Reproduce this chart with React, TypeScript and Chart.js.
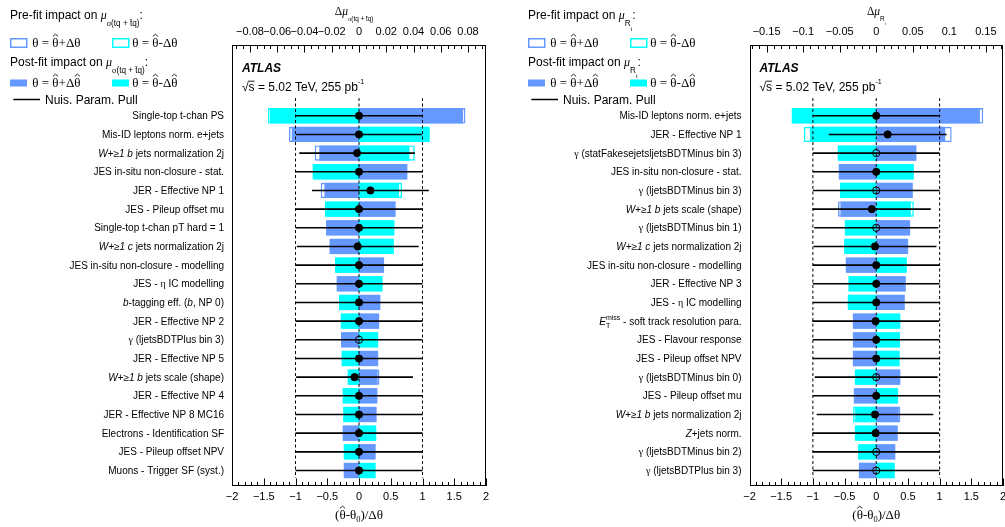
import React, { useEffect, useRef } from 'react';
import { Chart, registerables } from 'chart.js';

Chart.register(...registerables);

const W = 1005;
const H = 527;
const SANS = 'Liberation Sans';
const SERIF = 'Liberation Serif';
const BLUE = 'rgb(102,153,255)';
const CYAN = 'rgb(0,255,255)';

// ---------------- Left panel: impact on mu_{sigma(tq + tbar q)} ----------------
const L_LABELS = [
  'Single-top t-chan PS',
  'Mis-ID leptons norm. e+jets',
  '*W+≥1 b* jets normalization 2j',
  'JES in-situ non-closure - stat.',
  'JER - Effective NP 1',
  'JES - Pileup offset mu',
  'Single-top t-chan pT hard = 1',
  '*W+≥1 c* jets normalization 2j',
  'JES in-situ non-closure - modelling',
  'JES - η IC modelling',
  '*b*-tagging eff. (*b*, NP 0)',
  'JER - Effective NP 2',
  'γ (ljetsBDTPlus bin 3)',
  'JER - Effective NP 5',
  '*W+≥1 b* jets scale (shape)',
  'JER - Effective NP 4',
  'JER - Effective NP 8 MC16',
  'Electrons - Identification SF',
  'JES - Pileup offset NPV',
  'Muons - Trigger SF (syst.)',
];
const L_POST_UP = [0.0764, -0.0494, -0.0291, 0.0355, -0.0254, 0.0269, -0.0242, -0.0213, 0.0184, -0.0164, 0.0157, 0.0148, -0.0132, 0.0141, 0.0137, 0.0135, 0.0129, -0.012, 0.0122, -0.0112];
const L_POST_DN = [-0.0653, 0.0519, 0.037, -0.034, 0.0294, -0.025, 0.026, 0.0252, -0.0176, 0.0173, -0.0147, -0.0134, 0.0141, -0.0128, -0.0083, -0.012, -0.0116, 0.0127, -0.0112, 0.0122];
const L_PRE_UP = [0.0781, -0.0514, -0.0325, 0.035, -0.0281, 0.0265, -0.024, -0.0218, 0.0182, -0.0162, 0.0155, 0.0146, -0.013, 0.0139, 0.015, 0.0133, 0.0127, -0.0118, 0.012, -0.011];
const L_PRE_DN = [-0.0668, 0.051, 0.0409, -0.0335, 0.0316, -0.0246, 0.0258, 0.0256, -0.0174, 0.0171, -0.0145, -0.0132, 0.0139, -0.0126, -0.0081, -0.0118, -0.0114, 0.0125, -0.011, 0.012];
const L_PULL = [0, 0, -0.03, 0, 0.18, 0, 0, -0.02, 0, 0, 0, 0, 0, 0, -0.07, 0, 0, 0, 0, 0];
const L_PULL_ERR = [1.0, 0.99, 0.91, 1.0, 0.92, 1.0, 1.0, 0.96, 1.0, 1.0, 1.0, 1.0, 1.0, 1.0, 0.92, 1.0, 1.0, 1.0, 1.0, 1.0];
const L_IMPACT_TICKS = [-0.08, -0.06, -0.04, -0.02, 0, 0.02, 0.04, 0.06, 0.08];

// ---------------- Right panel: impact on mu_{R_t} ----------------
const R_LABELS = [
  'Mis-ID leptons norm. e+jets',
  'JER - Effective NP 1',
  'γ (statFakesejetsljetsBDTMinus bin 3)',
  'JES in-situ non-closure - stat.',
  'γ (ljetsBDTMinus bin 3)',
  '*W+≥1 b* jets scale (shape)',
  'γ (ljetsBDTMinus bin 1)',
  '*W+≥1 c* jets normalization 2j',
  'JES in-situ non-closure - modelling',
  'JER - Effective NP 3',
  'JES - η IC modelling',
  '*E*_{T}^{miss} - soft track resolution para.',
  'JES - Flavour response',
  'JES - Pileup offset NPV',
  'γ (ljetsBDTMinus bin 0)',
  'JES - Pileup offset mu',
  '*W+≥1 b* jets normalization 2j',
  '*Z*+jets norm.',
  'γ (ljetsBDTMinus bin 2)',
  'γ (ljetsBDTPlus bin 3)',
];
const R_POST_UP = [0.1418, 0.0945, 0.055, -0.0513, 0.05, -0.049, 0.0464, 0.042, -0.0417, 0.0404, 0.039, -0.032, -0.032, -0.032, 0.033, -0.0307, 0.0308, 0.0294, 0.0261, -0.0238];
const R_POST_DN = [-0.1156, -0.0908, -0.0527, 0.0514, -0.0495, 0.0473, -0.043, -0.043, 0.0418, -0.038, -0.039, 0.033, 0.0325, 0.032, -0.0293, 0.0299, -0.0289, -0.0293, -0.0248, 0.0253];
const R_PRE_UP = [0.1464, 0.1032, 0.0545, -0.0508, 0.0495, -0.0523, 0.046, 0.044, -0.0412, 0.04, 0.0386, -0.0316, -0.0316, -0.0316, 0.0326, -0.0303, 0.033, 0.029, 0.0257, -0.0234];
const R_PRE_DN = [-0.114, -0.0991, -0.0522, 0.051, -0.049, 0.0514, -0.0426, -0.044, 0.0414, -0.0376, -0.0386, 0.0326, 0.0321, 0.0316, -0.0289, 0.0295, -0.0317, -0.0289, -0.0244, 0.0249];
const R_PULL = [0, 0.18, 0, 0, 0, -0.07, 0, -0.02, 0, 0, 0, -0.01, 0, 0, 0, 0, -0.02, -0.01, 0, 0];
const R_PULL_ERR = [1.0, 0.93, 1.0, 1.0, 1.0, 0.93, 0.98, 0.97, 1.0, 1.0, 1.0, 1.0, 1.0, 1.0, 0.97, 1.0, 0.92, 1.0, 1.0, 1.0];
const R_IMPACT_TICKS = [-0.15, -0.1, -0.05, 0, 0.05, 0.1, 0.15];

// ---------------- Shared axis ----------------
const PULL_TICKS = [-2, -1.5, -1, -0.5, 0, 0.5, 1, 1.5, 2];
const PULL_REF_LINES = [-1, 0, 1];

const PANELS = [
  {
    labels: L_LABELS, postUp: L_POST_UP, postDn: L_POST_DN, preUp: L_PRE_UP, preDn: L_PRE_DN,
    pull: L_PULL, pullErr: L_PULL_ERR, impTicks: L_IMPACT_TICKS, impRange: 0.0932,
    impMinor: 0.005, impMajorEvery: 4, poi: 'σ(tq + t\u0304q)', areaLeft: 232, areaRight: 486, titleShift: -5,
  },
  {
    labels: R_LABELS, postUp: R_POST_UP, postDn: R_POST_DN, preUp: R_PRE_UP, preDn: R_PRE_DN,
    pull: R_PULL, pullErr: R_PULL_ERR, impTicks: R_IMPACT_TICKS, impRange: 0.1734,
    impMinor: 0.01, impMajorEvery: 5, poi: 'R_{t}', areaLeft: 749.5, areaRight: 1003, titleShift: 0,
  },
];

// ---------------- rich text helper ----------------
// markup: *..* italic, _{..} subscript, ^{..} superscript, #x puts a hat on x
const isGreek = (c) => { const k = c.charCodeAt(0); return k >= 0x370 && k <= 0x3ff; };

function parseRich(src, o) {
  const out = [];
  const push = (t, size, dy, italic, hat) => {
    let cur = '';
    let curSerif = false;
    for (const ch of t) {
      const s = o.serif ? true : isGreek(ch);
      if (cur && s !== curSerif) { out.push({ t: cur, size, dy, italic, serif: curSerif, hat }); cur = ''; }
      curSerif = s;
      cur += ch;
    }
    if (cur) out.push({ t: cur, size, dy, italic, serif: curSerif, hat });
  };
  const rec = (s, size, dy, italic, level) => {
    let buf = '';
    let i = 0;
    let lastEnd = -1;
    const flush = () => { if (buf) { push(buf, size, dy, italic, false); buf = ''; } };
    while (i < s.length) {
      const c = s[i];
      if (c === '*') { flush(); italic = !italic; i++; continue; }
      if (c === '#') { flush(); push(s[i + 1], size, dy, italic, true); i += 2; continue; }
      if ((c === '_' || c === '^') && s[i + 1] === '{') {
        flush();
        let depth = 0;
        let j = i + 1;
        for (; j < s.length; j++) {
          if (s[j] === '{') depth++;
          else if (s[j] === '}') { depth--; if (depth === 0) break; }
        }
        const inner = s.slice(i + 2, j);
        const stack = lastEnd === i;
        if (level === 0) out.push({ mark: 'start', stack });
        rec(inner, size * o.script, dy + (c === '_' ? size * o.sub : -size * o.sup), false, level + 1);
        if (level === 0) out.push({ mark: 'end', stack });
        i = j + 1;
        lastEnd = i;
        continue;
      }
      buf += c;
      i++;
    }
    flush();
  };
  rec(src, o.size, 0, false, 0);
  return out;
}

const fontStr = (it, o) => `${it.italic ? 'italic ' : ''}${o.bold ? 'bold ' : ''}${it.size}px "${it.serif ? SERIF : SANS}"`;

function drawRich(ctx, src, x, y, align, o) {
  const items = parseRich(src, o);
  let cx = 0;
  let gStart = 0;
  let saved = 0;
  const placed = [];
  for (const it of items) {
    if (it.mark) {
      if (it.mark === 'start') {
        if (it.stack) { saved = cx; cx = gStart; } else gStart = cx;
      } else if (it.stack) cx = Math.max(cx, saved);
      continue;
    }
    ctx.font = fontStr(it, o);
    const w = ctx.measureText(it.t).width;
    placed.push({ it, x: cx, w });
    cx += w;
  }
  const off = align === 'right' ? -cx : align === 'center' ? -cx / 2 : 0;
  ctx.textAlign = 'left';
  ctx.textBaseline = 'alphabetic';
  ctx.fillStyle = o.color || '#000';
  ctx.strokeStyle = o.color || '#000';
  for (const p of placed) {
    ctx.font = fontStr(p.it, o);
    const px = x + off + p.x;
    const py = y + p.it.dy;
    ctx.fillText(p.it.t, px, py);
    if (p.it.hat) {
      const s = p.it.size;
      const mid = px + p.w / 2;
      const base = py - s * 0.78;
      ctx.lineWidth = Math.max(0.8, s * 0.065);
      ctx.beginPath();
      ctx.moveTo(mid - s * 0.2, base);
      ctx.lineTo(mid, base - s * 0.17);
      ctx.lineTo(mid + s * 0.2, base);
      ctx.stroke();
    }
  }
  return cx;
}

function tickMarks(ctx, scale, step, every, y0, dir) {
  const k0 = Math.ceil(scale.min / step - 1e-6);
  const k1 = Math.floor(scale.max / step + 1e-6);
  ctx.beginPath();
  for (let k = k0; k <= k1; k++) {
    const x = Math.round(scale.getPixelForValue(k * step)) + 0.5;
    const len = k % every === 0 ? 7.5 : 4;
    ctx.moveTo(x, y0);
    ctx.lineTo(x, y0 + dir * len);
  }
  ctx.stroke();
}

const fmt = (v) => {
  const n = Number(v);
  if (Math.abs(n) < 1e-12) return '0';
  return (n < 0 ? '\u2212' : '') + String(Math.abs(n));
};

function decorPlugin(p) {
  return {
    id: 'decor',
    afterLayout(chart) {
      // pin the plotting frame exactly where the reference has it
      const a = chart.chartArea;
      a.left = p.areaLeft;
      a.right = p.areaRight;
      a.width = a.right - a.left;
      ['xImp', 'xPull'].forEach((id) => {
        const s = chart.scales[id];
        s.left = a.left;
        s.right = a.right;
        s.width = a.width;
        s.configure();
      });
    },
    afterDraw(chart) {
      const ctx = chart.ctx;
      const a = chart.chartArea;
      const xi = chart.scales.xImp;
      const xp = chart.scales.xPull;
      const ys = chart.scales.y;
      ctx.save();
      ctx.strokeStyle = '#000';
      ctx.fillStyle = '#000';
      ctx.lineWidth = 1;
      const fl = Math.round(a.left) + 0.5;
      const fr = Math.round(a.right) - 0.5;
      ctx.strokeRect(fl, Math.round(a.top) + 0.5, fr - fl, Math.round(a.bottom - a.top) - 1);
      tickMarks(ctx, xi, p.impMinor, p.impMajorEvery, a.top, 1);
      tickMarks(ctx, xp, 0.1, 5, a.bottom, -1);

      // axis titles
      const cx = (a.left + a.right) / 2;
      drawRich(ctx, `Δ*μ*_{${p.poi}}`, cx + p.titleShift, 15, 'center', { size: 11.5, script: 0.55, sub: 0.55, sup: 0.4 });
      drawRich(ctx, '(#θ-θ_{0})/Δθ', cx, 518.5, 'center', { size: 13, script: 0.65, sub: 0.3, sup: 0.4, serif: true });

      // ATLAS label
      ctx.font = `italic bold 12px "${SANS}"`;
      ctx.textAlign = 'left';
      ctx.textBaseline = 'alphabetic';
      ctx.fillStyle = '#000';
      ctx.fillText('ATLAS', a.left + 10, a.top + 27);
      const ex = a.left + 10;
      const ey = a.top + 46;
      drawRich(ctx, '√s = 5.02 TeV, 255 pb^{-1}', ex, ey, 'left', { size: 12, script: 0.6, sub: 0.3, sup: 0.55 });
      ctx.font = `12px "${SANS}"`;
      const wr = ctx.measureText('√').width;
      const ws = ctx.measureText('s').width;
      ctx.lineWidth = 0.9;
      ctx.strokeStyle = '#000';
      ctx.beginPath();
      ctx.moveTo(ex + wr - 0.5, ey - 9.8);
      ctx.lineTo(ex + wr + ws, ey - 9.8);
      ctx.stroke();

      // category labels
      const LAB = { size: 10, script: 0.7, sub: 0.35, sup: 0.5 };
      p.labels.forEach((l, i) => {
        drawRich(ctx, l, a.left - 8, ys.getPixelForValue(i) + 3.6, 'right', LAB);
      });

      // legend
      const ox = Math.round(a.left) - 222;
      const LEG = { size: 12, script: 0.68, sub: 0.62, sup: 0.4 };
      const TH = { size: 13, script: 0.7, sub: 0.3, sup: 0.4, serif: true };
      drawRich(ctx, `Pre-fit impact on *μ*_{${p.poi}}:`, ox, 18.5, 'left', LEG);
      ctx.lineWidth = 1.5;
      ctx.strokeStyle = BLUE;
      ctx.strokeRect(ox + 0.75, 38.75, 16, 8.5);
      ctx.strokeStyle = CYAN;
      ctx.strokeRect(ox + 102.75, 38.75, 16, 8.5);
      drawRich(ctx, 'θ = #θ+Δθ', ox + 22.3, 46.5, 'left', TH);
      drawRich(ctx, 'θ = #θ-Δθ', ox + 122.3, 46.5, 'left', TH);
      drawRich(ctx, `Post-fit impact on *μ*_{${p.poi}}:`, ox, 66, 'left', LEG);
      ctx.fillStyle = BLUE;
      ctx.fillRect(ox, 79.5, 17, 7);
      ctx.fillStyle = CYAN;
      ctx.fillRect(ox + 102, 79.5, 17, 7);
      drawRich(ctx, 'θ = #θ+Δ#θ', ox + 22.3, 86.5, 'left', TH);
      drawRich(ctx, 'θ = #θ-Δ#θ', ox + 122.3, 86.5, 'left', TH);
      ctx.strokeStyle = '#000';
      ctx.lineWidth = 1.5;
      ctx.beginPath();
      ctx.moveTo(ox + 3.3, 99.5);
      ctx.lineTo(ox + 30, 99.5);
      ctx.stroke();
      drawRich(ctx, 'Nuis. Param. Pull', ox + 35, 103.5, 'left', { size: 12, script: 0.7, sub: 0.3, sup: 0.4 });
      ctx.restore();
    },
  };
}

function buildConfig(p) {
  const n = p.labels.length;
  const rows = p.labels.map((_, i) => i);
  const barBase = {
    type: 'bar', indexAxis: 'y', grouped: false, xAxisID: 'xImp', yAxisID: 'y',
    categoryPercentage: 1, barPercentage: 0.82, borderSkipped: false,
  };
  const datasets = [
    { ...barBase, label: 'pre up', data: rows.map((i) => ({ x: [0, p.preUp[i]], y: i })), backgroundColor: 'rgba(255,255,255,0)', borderColor: BLUE, borderWidth: 1.4, order: 50 },
    { ...barBase, label: 'pre dn', data: rows.map((i) => ({ x: [0, p.preDn[i]], y: i })), backgroundColor: 'rgba(255,255,255,0)', borderColor: CYAN, borderWidth: 1.4, order: 49 },
    { ...barBase, label: 'post up', data: rows.map((i) => ({ x: [0, p.postUp[i]], y: i })), backgroundColor: BLUE, borderWidth: 0, order: 40 },
    { ...barBase, label: 'post dn', data: rows.map((i) => ({ x: [0, p.postDn[i]], y: i })), backgroundColor: CYAN, borderWidth: 0, order: 39 },
    ...PULL_REF_LINES.map((v) => ({
      type: 'line', label: 'ref ' + v, xAxisID: 'xPull', yAxisID: 'y',
      data: [{ x: v, y: -0.95 }, { x: v, y: n - 0.6 }],
      borderColor: '#000', borderWidth: 1, borderDash: [3, 2.5], pointRadius: 0, fill: false, order: 30,
    })),
    {
      type: 'bar', label: 'pull err', indexAxis: 'y', grouped: false, xAxisID: 'xPull', yAxisID: 'y',
      data: rows.map((i) => ({ x: [p.pull[i] - p.pullErr[i], p.pull[i] + p.pullErr[i]], y: i })),
      backgroundColor: '#000', barThickness: 1.6, inflateAmount: 0, borderWidth: 0, order: 20,
    },
    {
      type: 'scatter', label: 'pull', xAxisID: 'xPull', yAxisID: 'y',
      data: rows.map((i) => ({ x: p.pull[i], y: i })),
      pointRadius: 3.6, pointBorderWidth: 1, pointBorderColor: '#000',
      pointBackgroundColor: p.labels.map((l) => (l.startsWith('γ') ? 'rgba(0,0,0,0)' : '#000')),
      order: 10,
    },
  ];
  const tickFont = { family: SANS, size: 11 };
  return {
    type: 'bar',
    data: { datasets },
    options: {
      animation: false,
      responsive: false,
      maintainAspectRatio: false,
      events: [],
      layout: { padding: { left: p.areaLeft, right: W - p.areaRight, top: 0, bottom: 0 } },
      plugins: { legend: { display: false }, tooltip: { enabled: false }, title: { display: false } },
      scales: {
        xImp: {
          type: 'linear', position: 'top', min: -p.impRange, max: p.impRange, offset: false,
          grid: { display: false, drawTicks: false }, border: { display: false },
          ticks: { font: tickFont, color: '#000', padding: 6.4, autoSkip: false, maxRotation: 0, minRotation: 0, includeBounds: false, callback: fmt },
          afterBuildTicks: (s) => { s.ticks = p.impTicks.map((v) => ({ value: v })); },
          afterFit: (s) => { s.height = 45; s.paddingLeft = 0; s.paddingRight = 0; },
        },
        xPull: {
          type: 'linear', position: 'bottom', min: -2, max: 2, offset: false,
          grid: { display: false, drawTicks: false }, border: { display: false },
          ticks: { font: tickFont, color: '#000', padding: 4.4, autoSkip: false, maxRotation: 0, minRotation: 0, callback: fmt },
          afterBuildTicks: (s) => { s.ticks = PULL_TICKS.map((v) => ({ value: v })); },
          afterFit: (s) => { s.height = H - 486; s.paddingLeft = 0; s.paddingRight = 0; },
        },
        y: {
          type: 'linear', display: false, reverse: true, min: -3.79, max: 19.83, offset: false,
          afterBuildTicks: (s) => { s.ticks = rows.map((v) => ({ value: v })); },
        },
      },
    },
    plugins: [decorPlugin(p)],
  };
}

export default function App() {
  const refL = useRef(null);
  const refR = useRef(null);
  useEffect(() => {
    const c1 = new Chart(refL.current, buildConfig(PANELS[0]));
    const c2 = new Chart(refR.current, buildConfig(PANELS[1]));
    return () => { c1.destroy(); c2.destroy(); };
  }, []);
  return (
    <div style={{ position: 'absolute', left: 0, top: 0, width: W, height: H, background: '#fff', overflow: 'hidden' }}>
      <canvas ref={refL} width={W} height={H} style={{ position: 'absolute', left: 0, top: 0 }} />
      <canvas ref={refR} width={W} height={H} style={{ position: 'absolute', left: 0, top: 0 }} />
    </div>
  );
}
